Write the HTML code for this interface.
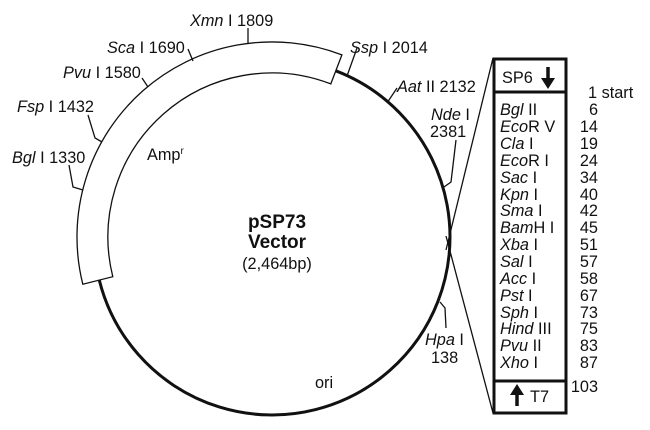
<!DOCTYPE html>
<html><head><meta charset="utf-8"><style>
html,body{margin:0;padding:0;background:#fff;}
svg{display:block;}
text{font-family:"Liberation Sans",Arial,sans-serif;font-size:16.3px;fill:#111;}
.i{font-style:italic;}
.b{font-weight:bold;font-size:19px;}
</style></head><body>
<svg width="650" height="430" viewBox="0 0 650 430" xmlns="http://www.w3.org/2000/svg">
<path d="M 335.8 70.8 A 178 178 0 1 1 99.3 280.1" fill="none" stroke="#111" stroke-width="3"/>
<path d="M 341.9 54.9 A 195 195 0 0 0 82.8 284.2 L 112.8 276.7 A 164 164 0 0 1 330.8 83.9 Z" fill="#fff" stroke="#111" stroke-width="1.3"/>
<g fill="none" stroke="#111" stroke-width="1.3">
<path d="M248 44 L248 28"/>
<path d="M193 61 L188 49"/>
<path d="M148 87 L142 78"/>
<path d="M102 142 L95 138 L88 115"/>
<path d="M83 190 L73 187 L69 165"/>
<path d="M347 76 L357 48"/>
<path d="M387 103 L397 88"/>
<path d="M444 187 L451 182 L456 140"/>
<path d="M440 302 L445 308 L446 328"/>
<path d="M493 58 L446 250"/>
<path d="M493 413 L446 236"/>
</g>
<text x="190" y="26"><tspan class="i">Xmn</tspan> I 1809</text>
<text x="107" y="53"><tspan class="i">Sca</tspan> I 1690</text>
<text x="63" y="78"><tspan class="i">Pvu</tspan> I 1580</text>
<text x="17" y="112"><tspan class="i">Fsp</tspan> I 1432</text>
<text x="12" y="163"><tspan class="i">Bgl</tspan> I 1330</text>
<text x="350" y="53"><tspan class="i">Ssp</tspan> I 2014</text>
<text x="397" y="92"><tspan class="i">Aat</tspan> II 2132</text>
<text x="431" y="120"><tspan class="i">Nde</tspan> I</text>
<text x="430" y="137">2381</text>
<text x="425" y="345"><tspan class="i">Hpa</tspan> I</text>
<text x="431" y="363">138</text>
<text x="315" y="388">ori</text>
<text x="147" y="160">Amp<tspan font-size="10" dy="-6">r</tspan></text>
<text class="b" x="277" y="228" text-anchor="middle">pSP73</text>
<text class="b" x="277" y="248" text-anchor="middle">Vector</text>
<text x="277" y="269" text-anchor="middle">(2,464bp)</text>
<rect x="494" y="59" width="72" height="354" fill="none" stroke="#111" stroke-width="3"/>
<line x1="494" y1="92" x2="566" y2="92" stroke="#111" stroke-width="3"/>
<line x1="494" y1="381" x2="566" y2="381" stroke="#111" stroke-width="3"/>
<text x="502" y="83">SP6</text>
<path d="M548 67 L548 82" stroke="#111" stroke-width="3.5"/>
<path d="M541 78 L548 89 L555 78 Z" fill="#111"/>
<path d="M517 406 L517 392" stroke="#111" stroke-width="3.5"/>
<path d="M510 395 L517 384 L524 395 Z" fill="#111"/>
<text x="530" y="402">T7</text>
<text x="588" y="98">1 start</text>
<g>
<text x="500" y="115"><tspan class="i">Bgl</tspan> II</text>
<text x="500" y="132"><tspan class="i">Eco</tspan>R V</text>
<text x="500" y="149"><tspan class="i">Cla</tspan> I</text>
<text x="500" y="166"><tspan class="i">Eco</tspan>R I</text>
<text x="500" y="183"><tspan class="i">Sac</tspan> I</text>
<text x="500" y="200"><tspan class="i">Kpn</tspan> I</text>
<text x="500" y="216"><tspan class="i">Sma</tspan> I</text>
<text x="500" y="233"><tspan class="i">Bam</tspan>H I</text>
<text x="500" y="250"><tspan class="i">Xba</tspan> I</text>
<text x="500" y="267"><tspan class="i">Sal</tspan> I</text>
<text x="500" y="284"><tspan class="i">Acc</tspan> I</text>
<text x="500" y="301"><tspan class="i">Pst</tspan> I</text>
<text x="500" y="318"><tspan class="i">Sph</tspan> I</text>
<text x="500" y="334"><tspan class="i">Hind</tspan> III</text>
<text x="500" y="351"><tspan class="i">Pvu</tspan> II</text>
<text x="500" y="368"><tspan class="i">Xho</tspan> I</text>
</g>
<g text-anchor="end">
<text x="598" y="115">6</text>
<text x="598" y="132">14</text>
<text x="598" y="149">19</text>
<text x="598" y="166">24</text>
<text x="598" y="183">34</text>
<text x="598" y="200">40</text>
<text x="598" y="216">42</text>
<text x="598" y="233">45</text>
<text x="598" y="250">51</text>
<text x="598" y="267">57</text>
<text x="598" y="284">58</text>
<text x="598" y="301">67</text>
<text x="598" y="318">73</text>
<text x="598" y="334">75</text>
<text x="598" y="351">83</text>
<text x="598" y="368">87</text>
<text x="598" y="392">103</text>
</g>
</svg>
</body></html>
